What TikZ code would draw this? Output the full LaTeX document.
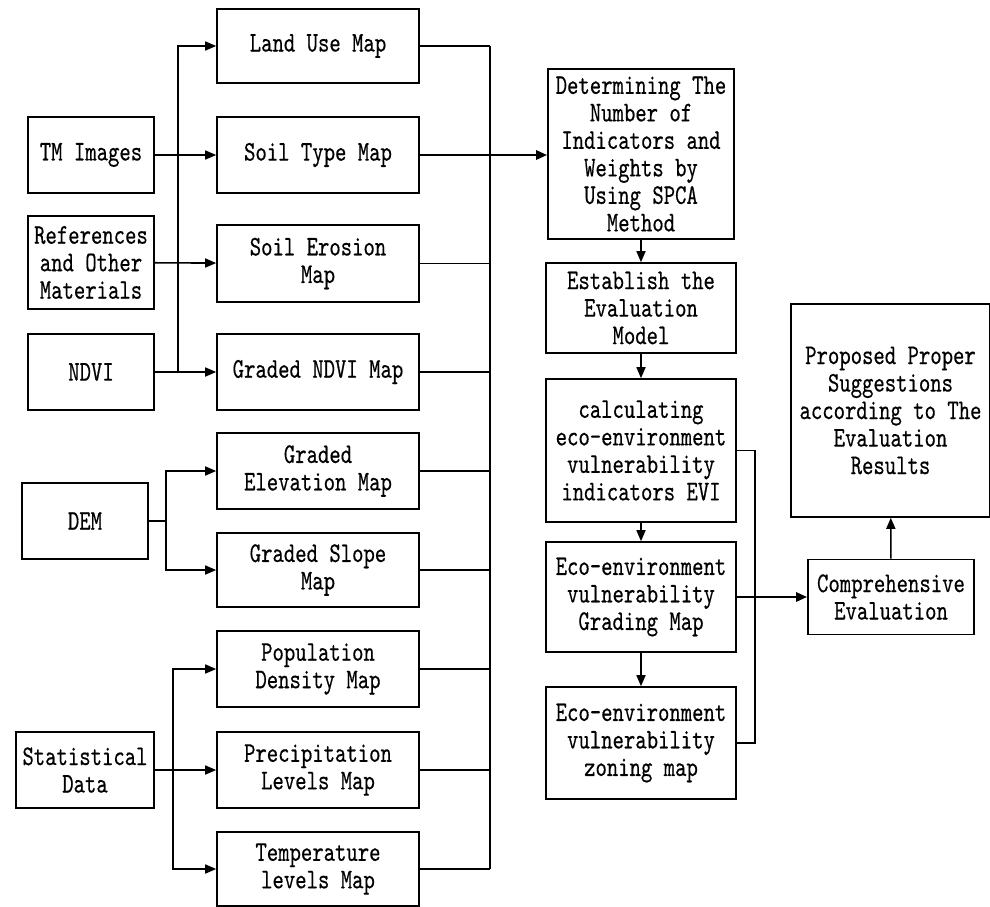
\documentclass[tikz,border=0pt]{standalone}
\usepackage{fontspec}
\setmonofont{lmmono10-regular.otf}[FakeStretch=0.76, FakeBold=0.4]
\usetikzlibrary{arrows.meta}

\begin{document}
\begin{tikzpicture}[x=1pt, y=-1pt, line width=1.6pt,
  >={Triangle[length=11pt, width=9pt]},
  box/.style={draw, rectangle, align=center, inner sep=1pt,
    font=\ttfamily\fontsize{28.5}{27.5}\selectfont},
  size/.style 2 args={minimum width=#1pt, minimum height=#2pt},
  main/.style={->, line width=2.6pt}]
  \useasboundingbox (0,0) rectangle (990,906);

  \node[box, size={126}{76}] (tm) at (91,155) {TM Images};
  \node[box, size={126}{93}] (refs) at (91,262.5) {References\\and Other\\Materials};
  \node[box, size={126}{76}] (ndvi) at (91,372) {NDVI};
  \node[box, size={126}{76}] (dem) at (85,521) {DEM};
  \node[box, size={138}{76}] (stat) at (85,770) {Statistical\\Data};

  \node[box, size={202}{74}] (landuse) at (318,46) {Land Use Map};
  \node[box, size={202}{76}] (soiltype) at (318,155) {Soil Type Map};
  \node[box, size={202}{77}] (erosion) at (318,263.5) {Soil Erosion\\Map};
  \node[box, size={202}{76}] (ndvimap) at (318,372) {Graded NDVI Map};
  \node[box, size={202}{76}] (elev) at (318,471) {Graded\\Elevation Map};
  \node[box, size={202}{74}] (slope) at (318,570) {Graded Slope\\Map};
  \node[box, size={202}{76}] (popu) at (318,669) {Population\\Density Map};
  \node[box, size={202}{76}] (precip) at (318,770) {Precipitation\\Levels Map};
  \node[box, size={202}{74}] (temp) at (318,869) {Temperature\\levels Map};

  \node[box, size={186}{170}] (determ) at (641,154) {Determining The\\Number of\\Indicators and\\Weights by\\Using SPCA\\Method};
  \node[box, size={190}{90}] (establish) at (641,308) {Establish the\\Evaluation\\Model};
  \node[box, size={190}{143}] (calc) at (641,450.5) {calculating\\eco-environment\\vulnerability\\indicators EVI};
  \node[box, size={190}{110}] (grading) at (641,597) {Eco-environment\\vulnerability\\Grading Map};
  \node[box, size={190}{112}] (zoning) at (641,743) {Eco-environment\\vulnerability\\zoning map};

  \node[box, size={166}{75}] (comp) at (891,597) {Comprehensive\\Evaluation};
  \node[box, size={199}{213}] (propose) at (890.5,410.5) {Proposed Proper\\Suggestions\\according to The\\Evaluation\\Results};

  \coordinate (b1) at (178,0);
  \coordinate (b2) at (166,0);
  \coordinate (b3) at (173,0);
  \coordinate (col) at (490,0);
  \coordinate (fb) at (755,0);

  \draw[->] (tm) -- (soiltype);
  \draw[->] (refs) -- (erosion);
  \draw[->] (ndvi) -- (ndvimap);
  \draw[->] (b1 |- ndvi.east) |- (landuse);

  \draw (dem) -- (b2 |- dem.east);
  \draw[->] (b2 |- dem.east) |- (elev);
  \draw[->] (b2 |- dem.east) |- (slope);

  \draw[->] (stat) -- (precip);
  \draw[->] (b3 |- stat.east) |- (popu);
  \draw[->] (b3 |- stat.east) |- (temp);

  \foreach \m in {landuse, erosion, ndvimap, elev, slope, popu, precip, temp}
    \draw (\m.east) -- (col |- \m.east);
  \draw (col |- landuse.east) -- (col |- temp.east);
  \draw[main] (soiltype.east) -- (determ.west |- soiltype.east);

  \draw[->] (determ) -- (establish);
  \draw[->] (establish) -- (calc);
  \draw[->] (calc) -- (grading);
  \draw[->] (grading) -- (zoning);
  \draw (calc.east) -- (fb |- calc.east) -- (fb |- zoning.east) -- (zoning.east);
  \draw[main] (grading) -- (comp);
  \draw[->] (comp) -- (propose);
\end{tikzpicture}
\end{document}
